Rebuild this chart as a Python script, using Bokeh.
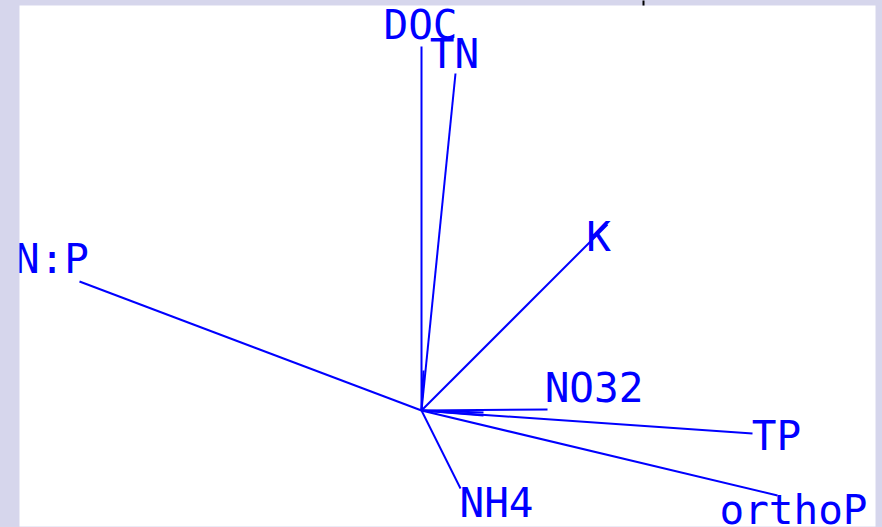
from bokeh.plotting import figure
from bokeh.models import ColumnDataSource, Range1d, LinearAxis, FixedTicker
from bokeh.embed import file_html
from bokeh.resources import INLINE
from bokeh.core.properties import value

# Biplot loading vectors (data units)
labels = ["DOC", "TN", "K", "N:P", "NO32", "TP", "orthoP", "NH4", "", "", ""]
load_x = [0.0, 0.085, 0.465, -0.855, 0.315, 0.8275, 0.89, 0.0975, 0.155, 0.155, 0.005]
load_y = [0.91, 0.8425, 0.465, 0.3225, 0.0025, -0.0575, -0.2125, -0.195, -0.005, -0.0125, 0.10]
top_ticks = [0.555]

# label offsets in screen pixels (style)
off_x = [-1, -1, -9, -27.5, 46.5, 24, 16, 36, 0, 0, 0]
off_y = [-22, -20, 12, -23, -22, 2, 14, 14, 0, 0, 0]

BLUE = "#0000ff"
LAV = "#d6d6ec"

p = figure(width=882, height=527, output_backend="svg", toolbar_location=None,
           x_range=Range1d(-1.005, 1.135), y_range=Range1d(-0.29, 1.0125),
           min_border_left=19, min_border_right=7, min_border_top=5, min_border_bottom=1,
           background_fill_color="white", border_fill_color=LAV)
p.outline_line_color = None
p.axis.visible = False
p.grid.visible = False

top = LinearAxis(ticker=FixedTicker(ticks=top_ticks), axis_line_color=None,
                 major_tick_in=0, major_tick_out=5, major_tick_line_color="black",
                 major_tick_line_width=2, minor_tick_line_color=None,
                 major_label_overrides={top_ticks[0]: ""},
                 major_label_text_font_size="1px", major_label_standoff=0)
p.add_layout(top, "above")

n = len(labels)
src = ColumnDataSource(dict(x0=[0.0] * n, y0=[0.0] * n, x1=load_x, y1=load_y,
                            lab=labels, ox=off_x, oy=off_y))
p.segment(x0="x0", y0="y0", x1="x1", y1="y1", source=src, line_color=BLUE, line_width=2)
p.text(x="x1", y="y1", text="lab", source=src, x_offset="ox", y_offset="oy",
       text_font=value("DejaVu Sans Mono"), text_font_size="41px", text_color=BLUE,
       text_align="center", text_baseline="alphabetic")

html = file_html(p, INLINE)
html = html.replace("<head>", "<head><style>body{background:%s;}</style>" % LAV, 1)
open("out.html", "w").write(html)
